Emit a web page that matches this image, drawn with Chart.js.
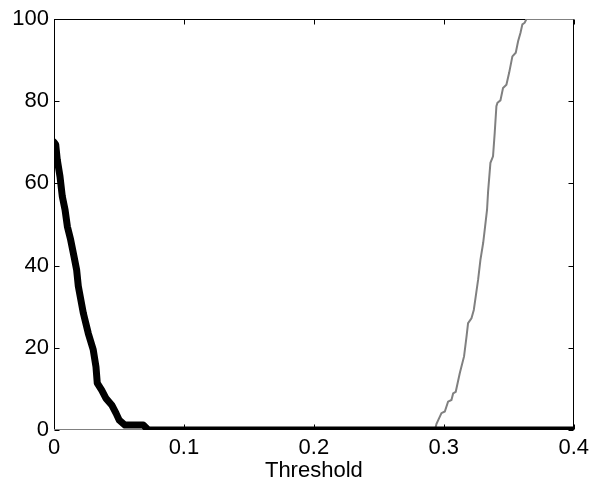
<!DOCTYPE html>
<html><head><meta charset="utf-8">
<script src="https://cdn.jsdelivr.net/npm/chart.js@4"></script>
<style>html,body{margin:0;padding:0;background:#fff}</style>
</head><body>
<canvas id="c" width="594" height="486"></canvas>
<script>
const xTickValues = [0, 0.1, 0.2, 0.3, 0.4];
const xTickLabels = ['0', '0.1', '0.2', '0.3', '0.4'];
const yTickValues = [0, 20, 40, 60, 80, 100];
const yTickLabels = ['0', '20', '40', '60', '80', '100'];
const xTitle = 'Threshold';

const blackX = [0, 0.0013, 0.0025, 0.0046, 0.0064, 0.0085, 0.0103, 0.0128, 0.0154, 0.0174, 0.0187, 0.0226, 0.0264, 0.0302, 0.0323, 0.0333, 0.0367, 0.04, 0.0444, 0.0477, 0.0502, 0.0546, 0.0687, 0.0726, 0.4];
const blackY = [70, 69.5, 65.8, 61.7, 56.8, 53.6, 49.5, 46.3, 42.2, 39, 35, 28.4, 23.5, 19.5, 15.4, 11.4, 9.7, 7.7, 6.1, 4.1, 2.4, 1.2, 1.2, 0, 0];

const grayX = [0, 0.2932, 0.2944, 0.2982, 0.3008, 0.3033, 0.3059, 0.3072, 0.3092, 0.3123, 0.3156, 0.3175, 0.3187, 0.3213, 0.3231, 0.3246, 0.3264, 0.3282, 0.3303, 0.3315, 0.3333, 0.3341, 0.3359, 0.3379, 0.3392, 0.3405, 0.3413, 0.3436, 0.3456, 0.3482, 0.3503, 0.3528, 0.3554, 0.3572, 0.359, 0.3605, 0.3623, 0.3636, 0.4];
const grayY = [0, 0, 1.5, 4.1, 4.5, 6.9, 7.3, 8.9, 9.3, 13.8, 17.9, 22.7, 26, 27.2, 29.2, 32.5, 36.5, 41.4, 45.5, 48.7, 53.6, 58, 65, 66.6, 72.3, 78.8, 79.6, 80.2, 83.2, 84, 86.9, 90.9, 91.8, 94.6, 96.6, 98.7, 99.1, 100, 100];

const toPts = (xs, ys) => xs.map((x, i) => ({x: x, y: ys[i]}));
const FONT = 'Liberation Sans, Arial, Helvetica, sans-serif';

const boxPlugin = {
  id: 'box',
  beforeDatasetsDraw(chart) {
    const {ctx, chartArea: a, scales: {x, y}} = chart;
    ctx.save();
    ctx.strokeStyle = '#000';
    ctx.lineWidth = 1;
    const L = Math.round(a.left) + 0.5, R = Math.round(a.right) - 0.5;
    const T = Math.round(a.top) + 0.5, B = Math.round(a.bottom) - 0.5;
    ctx.strokeRect(L, T, R - L, B - T);
    const tl = 5;
    ctx.beginPath();
    xTickValues.forEach(v => {
      const px = Math.round(x.getPixelForValue(v)) + 0.5;
      ctx.moveTo(px, B); ctx.lineTo(px, B - tl);
      ctx.moveTo(px, T); ctx.lineTo(px, T + tl);
    });
    yTickValues.forEach(v => {
      const py = Math.round(y.getPixelForValue(v)) + 0.5;
      ctx.moveTo(L, py); ctx.lineTo(L + tl, py);
      ctx.moveTo(R, py); ctx.lineTo(R - tl, py);
    });
    ctx.stroke();
    ctx.restore();
  }
};

new Chart(document.getElementById('c'), {
  type: 'line',
  data: {
    datasets: [
      {data: toPts(blackX, blackY), borderColor: '#000', borderWidth: 7, pointRadius: 0, tension: 0, fill: false, borderJoinStyle: 'round', borderCapStyle: 'round'},
      {data: toPts(grayX, grayY), borderColor: '#808080', borderWidth: 2, pointRadius: 0, tension: 0, fill: false}
    ]
  },
  options: {
    responsive: false,
    devicePixelRatio: 1,
    animation: false,
    layout: {padding: {top: 19, right: 20, left: 0, bottom: 0}},
    plugins: {legend: {display: false}, tooltip: {enabled: false}},
    scales: {
      x: {
        type: 'linear', min: 0, max: 0.4,
        afterBuildTicks: s => { s.ticks = xTickValues.map(v => ({value: v})); },
        afterFit: s => { s.height = 56; },
        grid: {display: false, drawTicks: false},
        border: {display: false},
        ticks: {
          padding: 5, color: '#000', maxRotation: 0, autoSkip: false,
          font: {family: FONT, size: 22},
          callback: (v) => { const i = xTickValues.findIndex(t => Math.abs(t - v) < 1e-9); return i >= 0 ? xTickLabels[i] : ''; }
        },
        title: {display: true, text: xTitle, color: '#000', font: {family: FONT, size: 22}, padding: {top: 0, bottom: 2}}
      },
      y: {
        type: 'linear', min: 0, max: 100,
        afterBuildTicks: s => { s.ticks = yTickValues.map(v => ({value: v})); },
        afterFit: s => { s.width = 54; },
        grid: {display: false, drawTicks: false},
        border: {display: false},
        ticks: {
          padding: 5, color: '#000', autoSkip: false,
          font: {family: FONT, size: 22},
          callback: (v) => { const i = yTickValues.findIndex(t => Math.abs(t - v) < 1e-9); return i >= 0 ? yTickLabels[i] : ''; }
        }
      }
    }
  },
  plugins: [boxPlugin]
});
</script>
</body></html>
